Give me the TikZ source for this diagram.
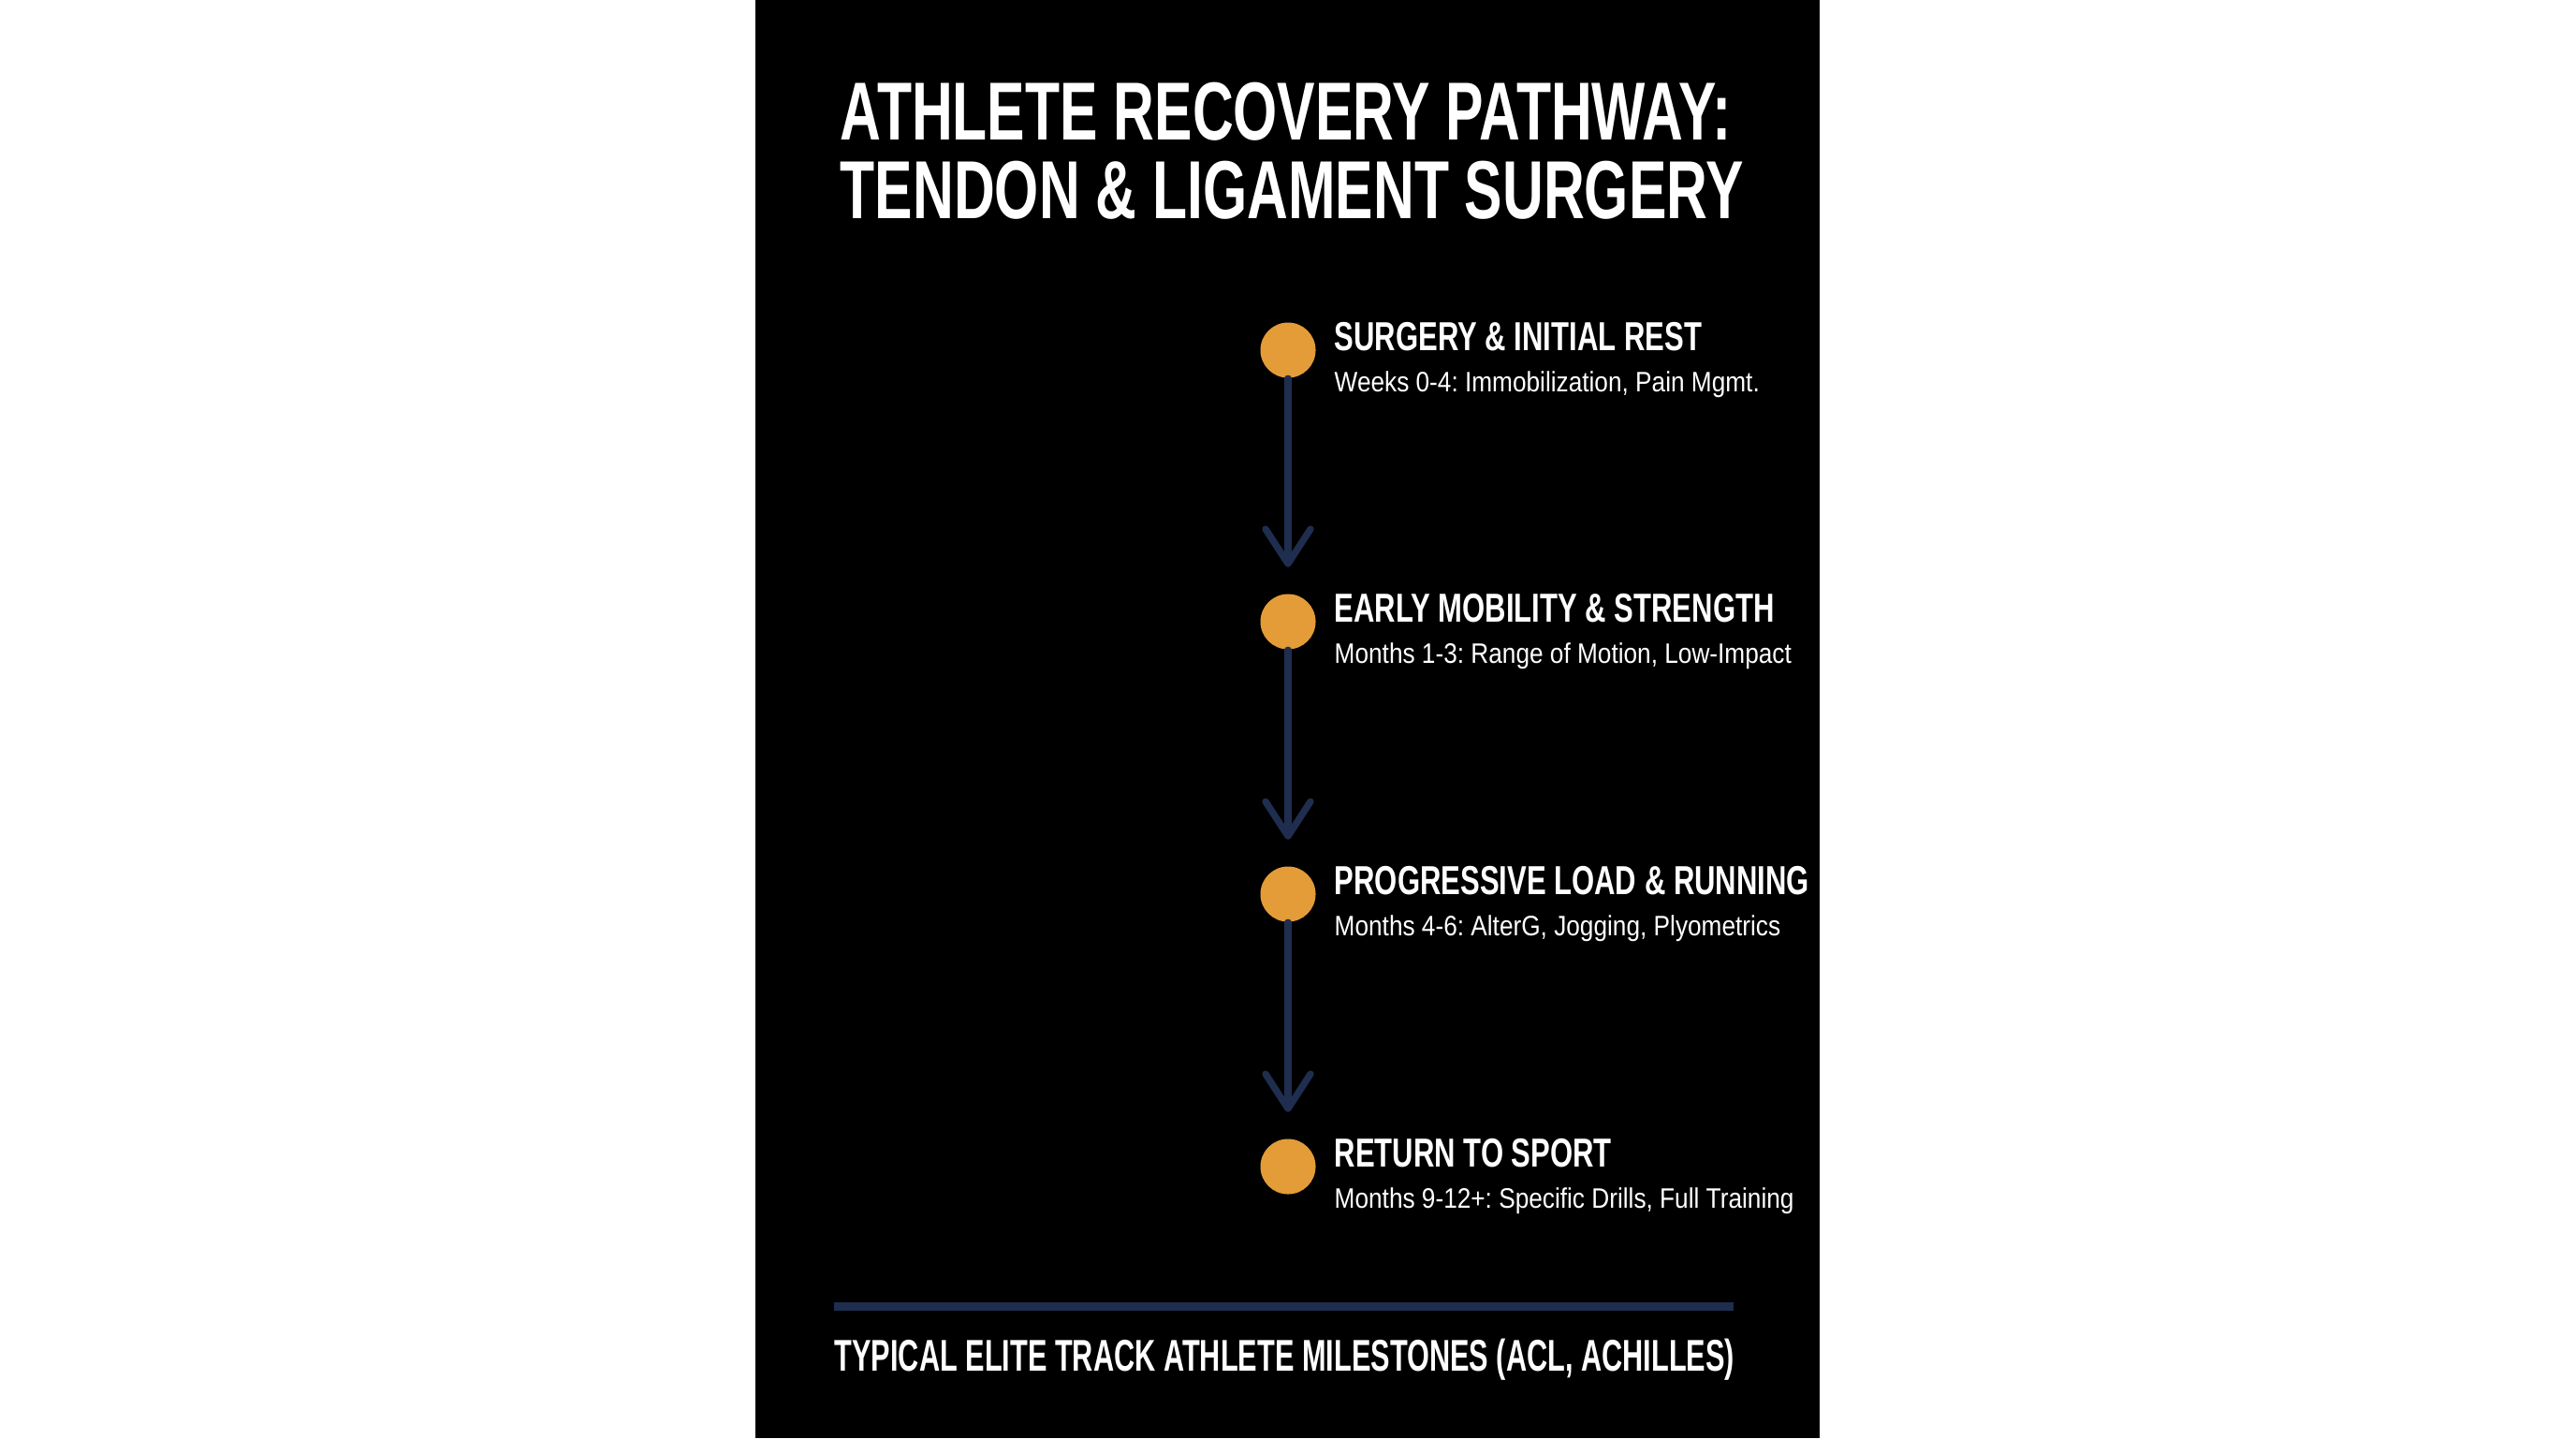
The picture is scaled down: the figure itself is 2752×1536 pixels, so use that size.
\documentclass[tikz,border=0pt]{standalone}
\usepackage{fontspec}
\setmainfont{Liberation Sans}
\newfontfamily\titlefont{Liberation Sans}[FakeStretch=0.69]
\newfontfamily\headfont{Liberation Sans}[FakeStretch=0.718]
\newfontfamily\detailfont{Liberation Sans}[FakeStretch=0.872]
\newfontfamily\footfont{Liberation Sans}[FakeStretch=0.647]
\usetikzlibrary{arrows.meta}
\definecolor{dotorange}{HTML}{E39C37}
\definecolor{linenavy}{HTML}{1F2E4F}
\frenchspacing

\begin{document}
\begin{tikzpicture}[x=0.01cm,y=-0.01cm,line cap=round,line join=round]
		\def\dotx{1376}
		\def\textx{1425}
		\tikzset{
			dot/.style={circle,fill=dotorange,minimum size=0.59cm,inner sep=0pt},
			flow/.style={draw=linenavy,line width=0.073cm,shorten >=0.28cm,
				-{Straight Barb[length=0.37cm,width=0.48cm,line cap=round,line join=round]}},
			titleline/.style={anchor=base west,inner sep=0pt,text=white,font=\titlefont\bfseries\fontsize{25}{30}\selectfont},
			head/.style={anchor=base west,inner sep=0pt,text=white,font=\headfont\bfseries\fontsize{12.3}{14}\selectfont},
			detail/.style={anchor=base west,inner sep=0pt,text=white,font=\detailfont\fontsize{8.55}{10}\selectfont},
			footline/.style={anchor=base west,inner sep=0pt,text=white,font=\footfont\bfseries\fontsize{13.5}{16}\selectfont}}
		% page and dark panel
		\fill[white] (0,0) rectangle (2752,1536);
		\fill[black] (807,0) rectangle (1944,1536);
		\useasboundingbox (0,0) rectangle (2752,1536);
		% title
		\node[titleline] (t1) at (897,149) {ATHLETE RECOVERY PATHWAY:};
		\node[titleline] (t2) at (897,233) {TENDON \& LIGAMENT SURGERY};
		% stages
		\foreach \i/\y/\stage/\info in {
			1/374/{SURGERY \& INITIAL REST}/{Weeks 0-4: Immobilization, Pain Mgmt.},
			2/664/{EARLY MOBILITY \& STRENGTH}/{Months 1-3: Range of Motion, Low-Impact},
			3/955/{PROGRESSIVE LOAD \& RUNNING}/{Months 4-6: AlterG, Jogging, Plyometrics},
			4/1246/{RETURN TO SPORT}/{Months 9-12+: Specific Drills, Full Training}}{
			\node[dot] (d\i) at (\dotx,\y) {};
			\node[head] (h\i) at (\textx,\y) {\stage};
			\node[detail] (s\i) at (\textx,\y+44) {\info};
		}
		\foreach \a/\b in {1/2,2/3,3/4}
			\draw[flow] (d\a) -- (d\b);
		% footer
		\coordinate (rl) at (891,1395);
		\coordinate (rr) at (1852,1395);
		\draw[linenavy,line width=0.09cm,line cap=butt] (rl) -- (rr);
		\node[footline] (foot) at (891,1464) {TYPICAL ELITE TRACK ATHLETE MILESTONES (ACL, ACHILLES)};
\end{tikzpicture}
\end{document}
